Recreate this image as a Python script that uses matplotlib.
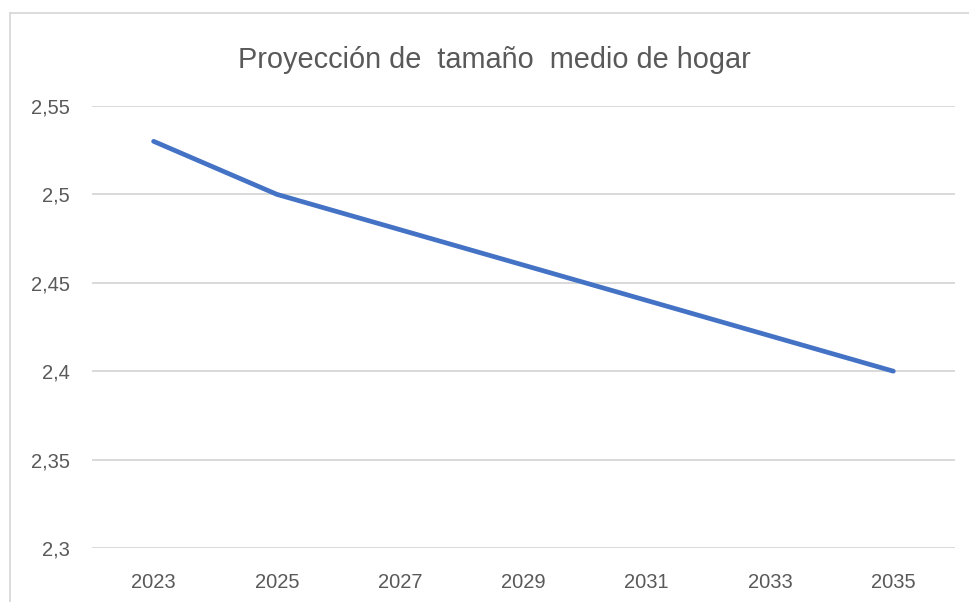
import matplotlib.pyplot as plt
from matplotlib.lines import Line2D
from matplotlib.ticker import FuncFormatter

years = ['2023', '2025', '2027', '2029', '2031', '2033', '2035']
tamano_medio = [2.53, 2.50, 2.48, 2.46, 2.44, 2.42, 2.40]
y_ticks = [2.30, 2.35, 2.40, 2.45, 2.50, 2.55]

plt.rcParams['font.family'] = ['Liberation Sans', 'DejaVu Sans']
txt_color = '#595959'

fig = plt.figure(figsize=(9.7, 6.02), dpi=100)
ax = fig.add_axes([0.0948, 0.0897, 0.8897, 0.7343])

x = list(range(len(years)))
ax.plot(x, tamano_medio, color='#4472C4', linewidth=3.4, solid_capstyle='round', solid_joinstyle='round', zorder=3)

ax.set_xlim(-0.5, len(years) - 0.5)
ax.set_ylim(2.30, 2.55)
ax.set_xticks(x)
ax.set_xticklabels(years)
ax.set_yticks(y_ticks)
ax.yaxis.set_major_formatter(FuncFormatter(lambda v, p: '{:g}'.format(round(v, 2)).replace('.', ',')))

ax.grid(axis='y', color='#D9D9D9', linewidth=1.4)
ax.set_axisbelow(True)
for s in ax.spines.values():
    s.set_visible(False)
ax.tick_params(axis='both', length=0, labelsize=14.5, labelcolor=txt_color)
ax.tick_params(axis='x', pad=18)
ax.tick_params(axis='y', pad=16)

fig.text(0.51, 0.90, 'Proyección de  tamaño  medio de hogar', ha='center', va='center',
         fontsize=20.8, color=txt_color)

# chart border (only left and top visible in the crop)
fig.add_artist(Line2D([0.0103, 0.0103], [0.0, 0.978], color='#D9D9D9', linewidth=1.3))
fig.add_artist(Line2D([0.0103, 1.0], [0.978, 0.978], color='#D9D9D9', linewidth=1.3))

fig.savefig('out.png', dpi=100)
